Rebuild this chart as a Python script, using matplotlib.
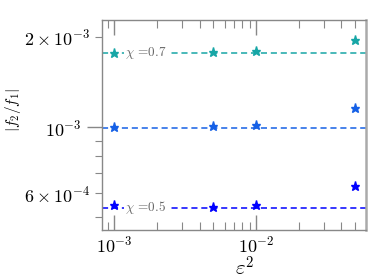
import numpy as np
import matplotlib
matplotlib.use('Agg')
import matplotlib.pyplot as plt

plt.rcParams['mathtext.fontset'] = 'cm'
plt.rcParams['font.family'] = 'serif'
plt.rcParams['font.serif'] = ['cmr10', 'DejaVu Serif']
plt.rcParams['axes.formatter.use_mathtext'] = True

# data
eps2 = [1e-3, 5e-3, 1e-2, 5e-2]
ratio_07 = [1.773e-3, 1.785e-3, 1.80e-3, 1.954e-3]
ratio_mid = [1.0e-3, 1.01e-3, 1.018e-3, 1.16e-3]
ratio_05 = [5.47e-4, 5.40e-4, 5.51e-4, 6.36e-4]
ref_07 = 1.773e-3
ref_mid = 0.99e-3
ref_05 = 5.37e-4

c_07 = '#17a6a6'
c_mid = '#1560e6'
c_05 = '#0000ff'

fig = plt.figure(figsize=(3.74, 2.8), dpi=100)
ax = fig.add_axes([0.2727, 0.1786, 0.7059, 0.75])

for ys, ref, col in [(ratio_07, ref_07, c_07), (ratio_mid, ref_mid, c_mid), (ratio_05, ref_05, c_05)]:
    ax.axhline(ref, color=col, ls=(0, (4, 2.5)), lw=1.1)
    ax.plot(eps2, ys, ls='none', marker='*', ms=6.5, color=col)

bb = dict(facecolor='white', edgecolor='none', pad=0.8)
ax.text(1.2e-3, ref_07, r'$\chi$ =0.7', color='#666666', fontsize=9.5, va='center', ha='left', bbox=bb)
ax.text(1.2e-3, ref_05, r'$\chi$ =0.5', color='#666666', fontsize=9.5, va='center', ha='left', bbox=bb)

ax.set_xscale('log')
ax.set_yscale('log')
ax.set_xlim(8.2e-4, 5.96e-2)
ax.set_ylim(4.53e-4, 2.28e-3)

ax.set_xlabel(r'$\varepsilon^2$', fontsize=15)
ax.xaxis.set_label_coords(0.54, -0.12)
ax.set_ylabel(r'$|f_2/f_1|$', fontsize=11)
ax.yaxis.set_label_coords(-0.30, 0.57)

for s in ax.spines.values():
    s.set_color('#888888')
    s.set_linewidth(1.0)
ax.spines['right'].set_linewidth(1.8)
ax.spines['right'].set_color('#aaaaaa')

ax.tick_params(axis='x', which='both', direction='in', top=True, bottom=True, colors='#888888', labelcolor='black', labelsize=13)
ax.tick_params(axis='x', which='major', length=11, width=1.0)
ax.tick_params(axis='x', which='minor', length=6, width=0.8)
ax.tick_params(axis='y', which='both', direction='out', left=True, right=False, colors='#888888', labelcolor='black', labelsize=13)
ax.tick_params(axis='y', which='major', length=11, width=1.0)
ax.tick_params(axis='y', which='minor', length=5, width=0.8)

fig.savefig('out.png', dpi=100)
